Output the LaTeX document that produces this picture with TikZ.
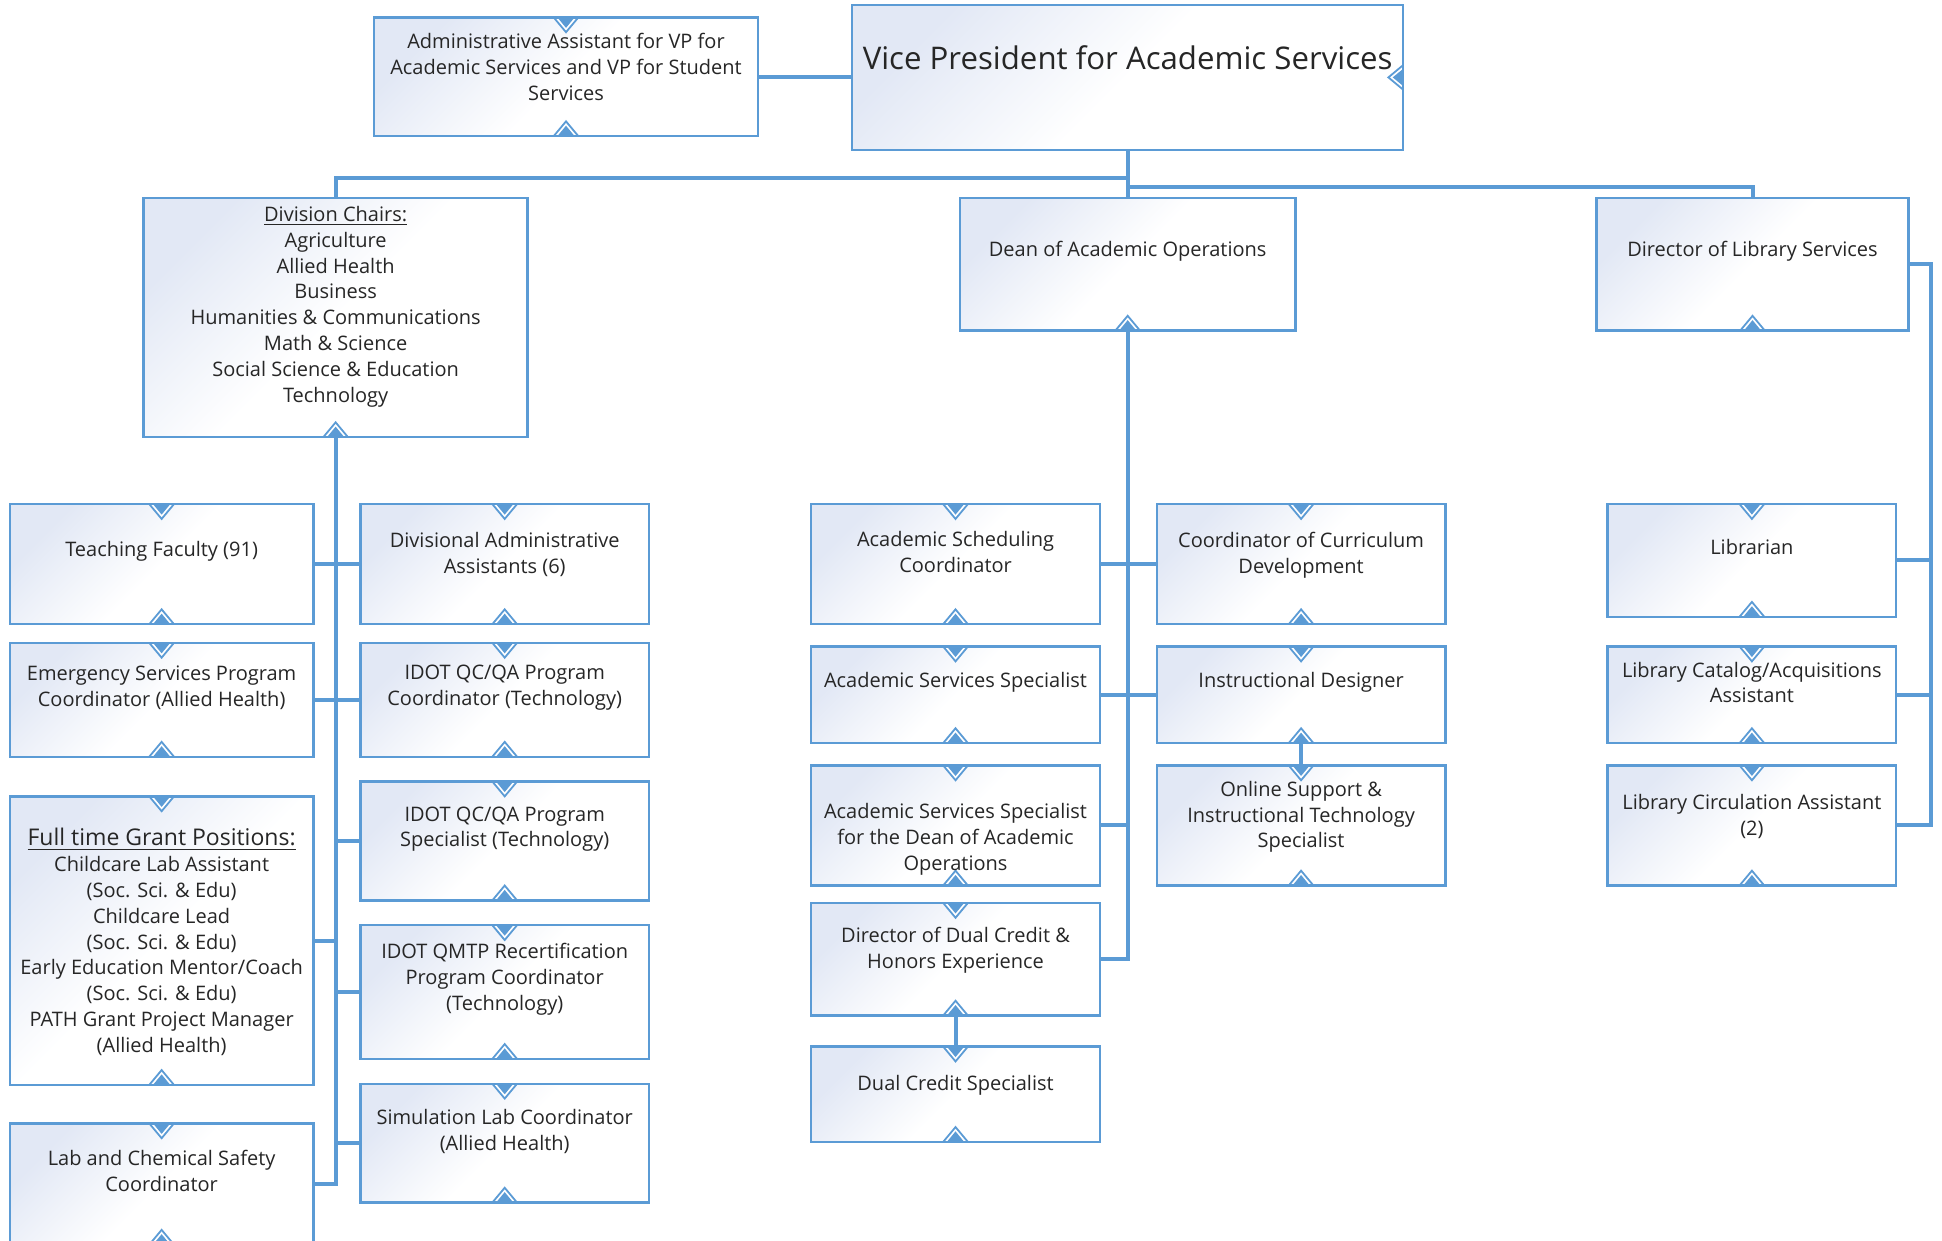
\documentclass[tikz,border=0pt]{standalone}
\usepackage{fontspec}
\setmainfont{Open Sans}
\usetikzlibrary{fit}

\definecolor{orgblue}{RGB}{91,155,213}
\definecolor{postfill}{RGB}{226,232,245}

% small tabs on the box edges
\newcommand{\tabdown}{%
  \filldraw[fill=white, draw=orgblue, line width=0.9pt] (path picture bounding box.north) ++(-10,0) -- ++(10,12) -- ++(10,-12);
  \fill[orgblue] (path picture bounding box.north) ++(-7,0) -- ++(7,8.5) -- ++(7,-8.5) -- cycle;}
\newcommand{\tabup}{%
  \filldraw[fill=white, draw=orgblue, line width=0.9pt] (path picture bounding box.south) ++(-10,0) -- ++(10,-12) -- ++(10,12);
  \fill[orgblue] (path picture bounding box.south) ++(-7,0) -- ++(7,-8.5) -- ++(7,8.5) -- cycle;}
\newcommand{\tableft}{%
  \filldraw[fill=white, draw=orgblue, line width=0.9pt] (path picture bounding box.east) ++(0,-10) -- ++(-12,10) -- ++(12,10);
  \fill[orgblue] (path picture bounding box.east) ++(0,-7) -- ++(-8.5,7) -- ++(8.5,7) -- cycle;}

\tikzset{
  post/.style={draw=orgblue, line width=1.2pt, inner sep=0pt, top color=postfill, bottom color=white, middle color=white, shading angle=45},
  tabs/.style={post, path picture={\tabdown\tabup}},
  foot/.style={post, path picture={\tabup}},
  txt/.style={align=center, inner sep=0pt, text=black!85, font=\fontsize{10}{12.9}\selectfont},
  link/.style={draw=orgblue, line width=2pt},
}

\begin{document}
\begin{tikzpicture}[x=0.6193pt, y=-0.6193pt]
\useasboundingbox (0,0) rectangle (1568,1002);

% Top row
\node[tabs, fit={(302,14)(612,110)}] (adm) {};
\node[txt] (adm-t) at (457,54) {Administrative Assistant for VP for\\Academic Services and VP for Student\\Services};
\node[post, path picture={\tableft}, fit={(688,4)(1133,121)}] (vp) {};
\node[txt, font=\fontsize{15.6}{18}\selectfont] (vp-t) at (910.5,47) {Vice President for Academic Services};

% Second row
\node[foot, fit={(116,160)(426,353)}] (dc) {};
\node[txt] (dc-t) at (271,247.5) {\underline{Division Chairs:}\\Agriculture\\Allied Health\\Business\\Humanities \& Communications\\Math \& Science\\Social Science \& Education\\Technology};
\node[foot, fit={(775,160)(1046,267)}] (dn) {};
\node[txt] (dn-t) at (910.5,203) {Dean of Academic Operations};
\node[foot, fit={(1289,160)(1541,267)}] (ls) {};
\node[txt] (ls-t) at (1415,203) {Director of Library Services};

% Division chairs, left column
\node[tabs, fit={(8,407)(253,504)}] (tf) {};
\node[txt] (tf-t) at (130.5,445) {Teaching Faculty (91)};
\node[tabs, fit={(8,519)(253,611)}] (es) {};
\node[txt] (es-t) at (130.5,555.5) {Emergency Services Program\\Coordinator (Allied Health)};
\node[tabs, fit={(8,643)(253,876)}] (gp) {};
\node[txt] (gp-t) at (130.5,760.5) {{\fontsize{11.5}{14}\selectfont\underline{Full time Grant Positions:}}\\Childcare Lab Assistant\\(Soc. Sci. \& Edu)\\Childcare Lead\\(Soc. Sci. \& Edu)\\Early Education Mentor/Coach\\(Soc. Sci. \& Edu)\\PATH Grant Project Manager\\(Allied Health)};
\node[tabs, fit={(8,907)(253,1005)}] (lc) {};
\node[txt] (lc-t) at (130.5,945.5) {Lab and Chemical Safety\\Coordinator};

% Division chairs, right column
\node[tabs, fit={(291,407)(524,504)}] (da) {};
\node[txt] (da-t) at (407.5,448) {Divisional Administrative\\Assistants (6)};
\node[tabs, fit={(291,519)(524,611)}] (qc) {};
\node[txt] (qc-t) at (407.5,555.5) {IDOT QC/QA Program\\Coordinator (Technology)};
\node[tabs, fit={(291,631)(524,727)}] (qs) {};
\node[txt] (qs-t) at (407.5,669.5) {IDOT QC/QA Program\\Specialist (Technology)};
\node[tabs, fit={(291,747)(524,855)}] (qm) {};
\node[txt] (qm-t) at (407.5,790.5) {IDOT QMTP Recertification\\Program Coordinator\\(Technology)};
\node[tabs, fit={(291,875)(524,971)}] (sl) {};
\node[txt] (sl-t) at (407.5,913.5) {Simulation Lab Coordinator\\(Allied Health)};

% Dean, left column
\node[tabs, fit={(655,407)(888,504)}] (sc) {};
\node[txt] (sc-t) at (771.5,445.5) {Academic Scheduling\\Coordinator};
\node[tabs, fit={(655,522)(888,600)}] (as) {};
\node[txt] (as-t) at (771.5,551) {Academic Services Specialist};
\node[tabs, fit={(655,618)(888,715)}] (ad) {};
\node[txt] (ad-t) at (771.5,677.5) {Academic Services Specialist\\for the Dean of Academic\\Operations};
\node[tabs, fit={(655,729)(888,820)}] (dd) {};
\node[txt] (dd-t) at (771.5,767.5) {Director of Dual Credit \&\\Honors Experience};
\node[tabs, fit={(655,845)(888,922)}] (ds) {};
\node[txt] (ds-t) at (771.5,876) {Dual Credit Specialist};

% Dean, right column
\node[tabs, fit={(934,407)(1167,504)}] (cd) {};
\node[txt] (cd-t) at (1050.5,448.5) {Coordinator of Curriculum\\Development};
\node[tabs, fit={(934,522)(1167,600)}] (idz) {};
\node[txt] (idz-t) at (1050.5,551) {Instructional Designer};
\node[tabs, fit={(934,618)(1167,715)}] (os) {};
\node[txt] (os-t) at (1050.5,659.5) {Online Support \&\\Instructional Technology\\Specialist};

% Library column
\node[tabs, fit={(1298,407)(1531,498)}] (lb) {};
\node[txt] (lb-t) at (1414.5,442) {Librarian};
\node[tabs, fit={(1298,522)(1531,600)}] (lca) {};
\node[txt] (lca-t) at (1414.5,551) {Library Catalog/Acquisitions\\Assistant};
\node[tabs, fit={(1298,618)(1531,715)}] (lci) {};
\node[txt] (lci-t) at (1414.5,659.5) {Library Circulation Assistant\\(2)};

% Links from the top
\draw[link] (adm.east) -- (adm.east -| vp.west);
\draw[link] (vp.south) -- (dn.north);
\draw[link] (vp.south) ++(0,22) -| (dc.north);
\draw[link] (vp.south) ++(0,29) -| (ls.north);

% Division chairs links
\draw[link] (dc.south) -- (dc.south |- lc.east) -- (lc.east);
\draw[link] (tf.east) -- (da.west);
\draw[link] (es.east) -- (qc.west);
\draw[link] (gp.east) -- (gp.east -| dc.south);
\draw[link] (qs.west) -- (qs.west -| dc.south);
\draw[link] (qm.west) -- (qm.west -| dc.south);
\draw[link] (sl.west) -- (sl.west -| dc.south);

% Dean links
\draw[link] (dn.south) -- (dn.south |- dd.east) -- (dd.east);
\draw[link] (sc.east) -- (cd.west);
\draw[link] (as.east) -- (idz.west);
\draw[link] (ad.east) -- (ad.east -| dn.south);
\draw[link] (dd.south) -- (ds.north);
\draw[link] (idz.south) -- (os.north);

% Library links
\coordinate (rail) at (1559,0);
\draw[link] (ls.east) -- (ls.east -| rail) -- (lci.east -| rail) -- (lci.east);
\draw[link] (lb.east) -- (lb.east -| rail);
\draw[link] (lca.east) -- (lca.east -| rail);
\end{tikzpicture}
\end{document}
